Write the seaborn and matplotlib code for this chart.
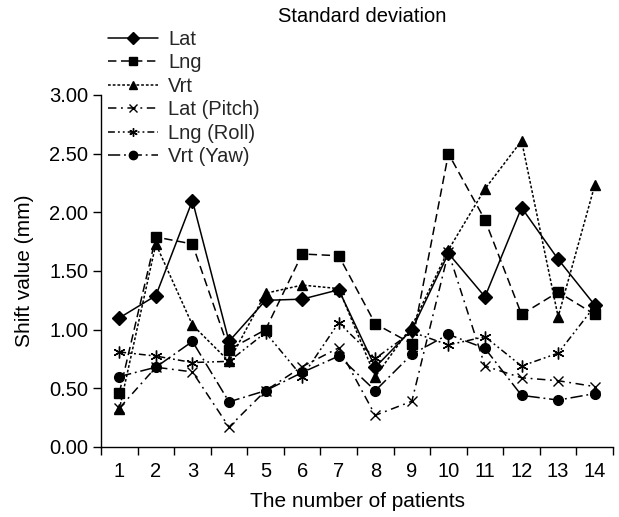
import numpy as np
import pandas as pd
import matplotlib
matplotlib.use("Agg")
import matplotlib.pyplot as plt
import seaborn as sns

patients = list(range(1, 15))
lat = [1.10, 1.29, 2.10, 0.90, 1.25, 1.26, 1.34, 0.68, 1.00, 1.65, 1.28, 2.04, 1.60, 1.21]
lng = [0.46, 1.79, 1.73, 0.83, 1.00, 1.645, 1.63, 1.05, 0.88, 2.50, 1.935, 1.13, 1.32, 1.13]
vrt = [0.32, 1.73, 1.04, 0.73, 1.31, 1.38, 1.35, 0.60, 1.03, 1.68, 2.20, 2.61, 1.11, 2.23]
lat_pitch = [0.33, 0.68, 0.64, 0.17, 0.48, 0.685, 0.845, 0.27, 0.39, 1.66, 0.69, 0.59, 0.565, 0.515]
lng_roll = [0.81, 0.775, 0.72, 0.73, 0.975, 0.60, 1.06, 0.755, 0.98, 0.87, 0.94, 0.69, 0.80, 1.20]
vrt_yaw = [0.60, 0.68, 0.90, 0.385, 0.48, 0.635, 0.775, 0.48, 0.79, 0.96, 0.84, 0.44, 0.40, 0.455]

series_names = ["Lat", "Lng", "Vrt", "Lat (Pitch)", "Lng (Roll)", "Vrt (Yaw)"]
series_values = [lat, lng, vrt, lat_pitch, lng_roll, vrt_yaw]
y_ticks = [0.0, 0.5, 1.0, 1.5, 2.0, 2.5, 3.0]

df = pd.DataFrame({
    "patient": np.tile(patients, len(series_names)),
    "value": np.concatenate(series_values),
    "series": np.repeat(series_names, len(patients)),
})

sns.set_theme(style="ticks")
plt.rcParams["font.family"] = ["Liberation Sans", "DejaVu Sans"]

FS = 14.5

fig = plt.figure(figsize=(6.19, 5.17), dpi=100)
ax = fig.add_axes([101 / 619, 1 - 447 / 517, 512 / 619, 352 / 517])

styles = {
    "Lat": dict(marker="D", ms=7.0, linestyle="-"),
    "Lng": dict(marker="s", ms=6.5, linestyle=(0, (5.5, 3))),
    "Vrt": dict(marker="^", ms=7.5, linestyle=(0, (1.8, 1.3))),
    "Lat (Pitch)": dict(marker="x", ms=7.5, linestyle=(0, (5.5, 3, 1.2, 3))),
    "Lng (Roll)": dict(marker=(6, 2, 0), ms=8.5, linestyle=(0, (4.5, 2, 1.2, 2, 1.2, 2))),
    "Vrt (Yaw)": dict(marker="o", ms=7.0, linestyle=(0, (8, 2.5, 1.2, 2.5))),
}

handles = []
for name in series_names:
    st = styles[name]
    sub = df[df["series"] == name]
    sns.lineplot(data=sub, x="patient", y="value", color="black", ax=ax,
                 marker=st["marker"], markersize=st["ms"], linestyle=st["linestyle"],
                 markeredgecolor="black", markerfacecolor="black", markeredgewidth=1.0,
                 linewidth=1.1, legend=False)
    handles.append(ax.get_lines()[-1])

ax.set_xlim(0.5, 14.5)
ax.set_ylim(0, 3.0)
ax.set_xticks(np.arange(0.5, 15, 1.0))
ax.set_xticklabels([])
ax.set_xticks(patients, minor=True)
ax.set_xticklabels([str(p) for p in patients], minor=True)
ax.tick_params(axis="x", which="minor", length=0, labelsize=FS, pad=11)
ax.tick_params(axis="x", which="major", length=6, width=1, color="black", direction="out")
ax.set_yticks(y_ticks)
ax.set_yticklabels([f"{v:.2f}" for v in y_ticks])
ax.tick_params(axis="y", length=6, width=1, color="black", labelsize=FS, pad=3)
for lab in ax.get_xticklabels(minor=True) + ax.get_yticklabels():
    lab.set_color("black")
for s in ["top", "right"]:
    ax.spines[s].set_visible(False)
for s in ["left", "bottom"]:
    ax.spines[s].set_color("black")
    ax.spines[s].set_linewidth(1.0)

ax.set_xlabel("The number of patients", fontsize=FS + 0.5, color="black", labelpad=8)
ax.set_ylabel("Shift value (mm)", fontsize=FS + 0.5, color="black", labelpad=11)

leg = fig.legend(handles, series_names, loc="upper left", bbox_to_anchor=(108 / 619, 1 - 30 / 517),
                 frameon=False, fontsize=FS, labelspacing=0.22, handlelength=2.5,
                 handletextpad=0.48, borderaxespad=0, borderpad=0)
for h in leg.legend_handles:
    h.set_markersize(6)
fig.text(362 / 619, 1 - 17 / 517, "Standard deviation", ha="center", va="center",
         fontsize=FS, color="black")

fig.savefig("out.png", dpi=100)
